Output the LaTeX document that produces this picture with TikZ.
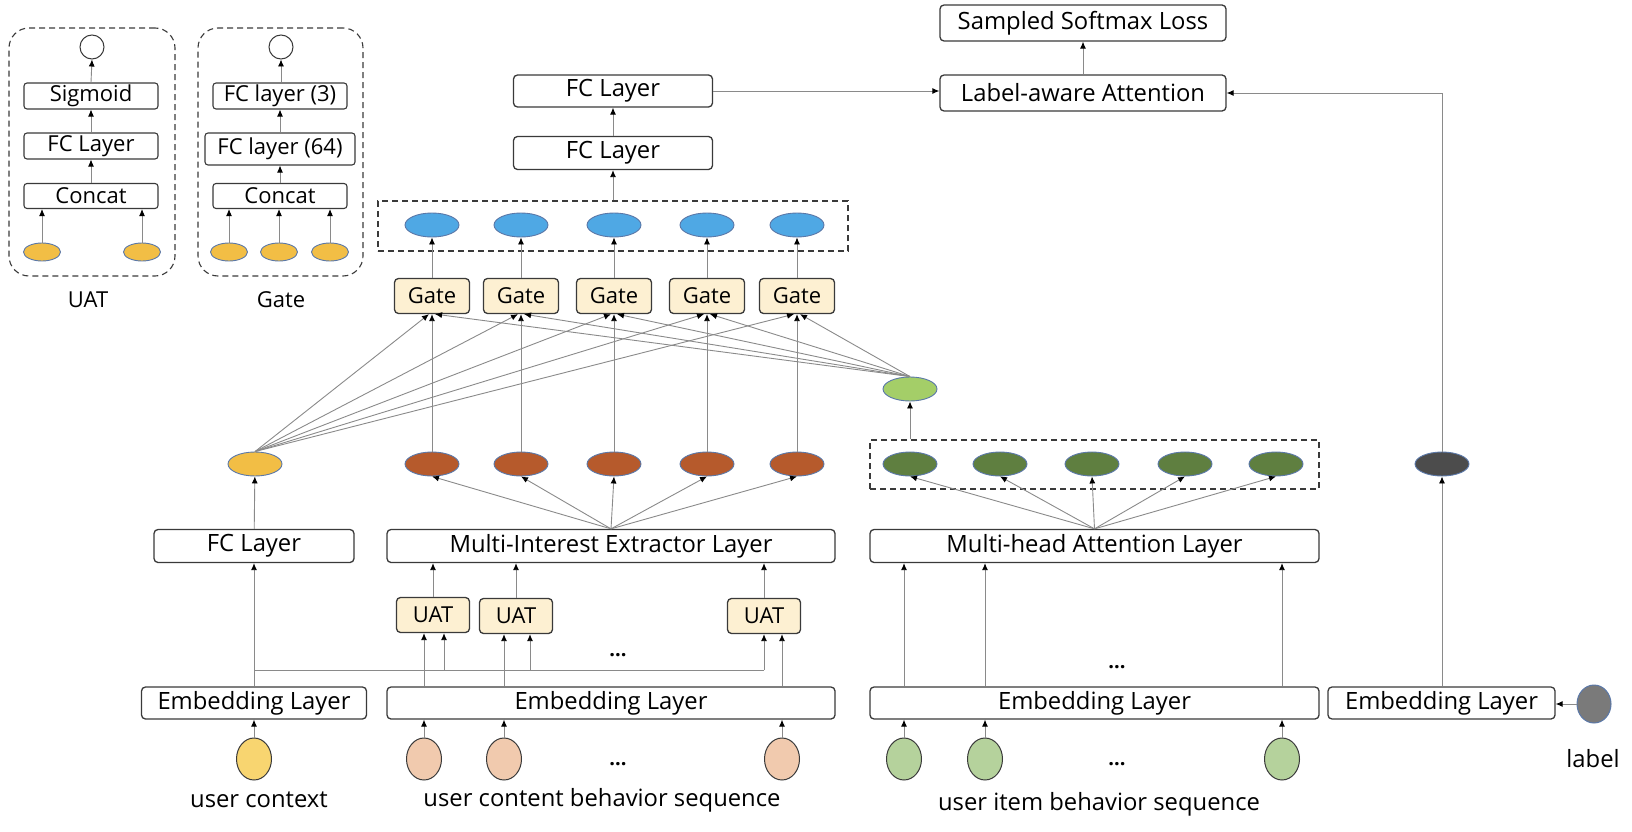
\documentclass[tikz,border=0pt]{standalone}
\usepackage{fontspec}
\setmainfont{Open Sans}
\usetikzlibrary{shapes.geometric,arrows.meta,calc}
\definecolor{linec}{HTML}{8A8A8A}
\definecolor{boxc}{HTML}{3A3A3A}
\definecolor{cream}{HTML}{FDF0D2}
\definecolor{yellowF}{HTML}{F2BE45}
\definecolor{ellb}{HTML}{5B78A8}
\definecolor{blueF}{HTML}{4FA8E4}
\definecolor{brownF}{HTML}{B65A2C}
\definecolor{dgreenF}{HTML}{5F7F40}
\definecolor{lgreenF}{HTML}{A4CE68}
\definecolor{grayF}{HTML}{4C4C4C}
\definecolor{ucF}{HTML}{F8D570}
\definecolor{peachF}{HTML}{F1CAAE}
\definecolor{itemF}{HTML}{B5D29C}
\definecolor{labF}{HTML}{7A7A7A}
\begin{document}
\begin{tikzpicture}[x=1pt,y=-1pt,
  mainf/.style={font=\fontsize{23.8}{27}\selectfont},
  gatef/.style={font=\fontsize{22}{26}\selectfont},
  smallf/.style={font=\fontsize{22}{25}\selectfont},
  box/.style={draw=boxc, line width=1.3pt, rounded corners=4pt, fill=white, inner sep=0pt, mainf},
  sbox/.style={draw=boxc, line width=1.1pt, rounded corners=3pt, fill=white, inner sep=0pt, smallf},
  cbox/.style={box, gatef, fill=cream, minimum width=73pt, minimum height=35pt},
  ell/.style={ellipse, draw=ellb, line width=0.9pt, minimum width=54pt, minimum height=24pt, inner sep=0pt},
  sell/.style={ellipse, draw=ellb, line width=0.9pt, minimum width=37pt, minimum height=18pt, inner sep=0pt, fill=yellowF},
  circ/.style={ellipse, draw=boxc, line width=1pt, minimum width=35pt, minimum height=42pt, inner sep=0pt},
  dbox/.style={draw=boxc, dash pattern=on 6pt off 4pt, line width=1.1pt, inner sep=0pt},
  arr/.style={draw=linec, line width=0.9pt, -{Latex[length=7pt,width=6pt,color=black]}},
  ln/.style={draw=linec, line width=0.9pt},
  dots/.style={font=\fontsize{20}{22}\selectfont\bfseries}
]
\useasboundingbox (0,0) rectangle (1632,832);

% ---------- UAT panel ----------
\node[dbox, rounded corners=20pt, minimum width=166pt, minimum height=248pt] (uatpanel) at (92,152) {};
\node[circle, draw=boxc, line width=1pt, minimum size=24pt, inner sep=0pt, fill=white] (uo) at (92,47) {};
\node[sbox, minimum width=134pt, minimum height=26pt] (usig) at (91,96) {Sigmoid};
\node[sbox, minimum width=134pt, minimum height=26pt] (ufc) at (91,146) {FC Layer};
\node[sbox, minimum width=134pt, minimum height=25pt] (ucat) at (91,196) {Concat};
\node[sell] (ue1) at (42,252) {};
\node[sell] (ue2) at (142,252) {};
\node[gatef] (uatlab) at (88,300) {UAT};

% ---------- Gate panel ----------
\node[dbox, rounded corners=20pt, minimum width=165pt, minimum height=248pt] (gatepanel) at (280.5,152) {};
\node[circle, draw=boxc, line width=1pt, minimum size=24pt, inner sep=0pt, fill=white] (go) at (281,47) {};
\node[sbox, minimum width=134pt, minimum height=26pt] (gfc3) at (280,96) {FC layer (3)};
\node[sbox, minimum width=150pt, minimum height=32pt] (gfc64) at (280,149) {FC layer (64)};
\node[sbox, minimum width=134pt, minimum height=25pt] (gcat) at (280,196) {Concat};
\node[sell] (ge1) at (229,252) {};
\node[sell] (ge2) at (279,252) {};
\node[sell] (ge3) at (330,252) {};
\node[gatef] (gatelab) at (281,300) {Gate};

% ---------- top ----------
\node[box, minimum width=286pt, minimum height=36pt] (sml) at (1083,23) {Sampled Softmax Loss};
\node[box, minimum width=286pt, minimum height=36pt] (laa) at (1083,93) {Label-aware Attention};
\node[box, minimum width=199pt, minimum height=32pt] (fc2) at (613,91) {FC Layer};
\node[box, minimum width=199pt, minimum height=33pt] (fc1) at (613,153) {FC Layer};

% dashed groups
\node[dbox, minimum width=470pt, minimum height=50pt] (bluebox) at (613,226) {};
\node[dbox, minimum width=449pt, minimum height=49pt] (greenbox) at (1094.5,464.5) {};

\foreach \x [count=\i] in {432,521,614,707,797} {
  \node[ell, fill=blueF] (b\i) at (\x,225) {};
  \node[cbox, minimum width=75pt] (g\i) at (\x,296) {Gate};
  \node[ell, fill=brownF] (br\i) at (\x,464) {};
}
\foreach \x [count=\i] in {910,1000,1092,1185,1276} {
  \node[ell, fill=dgreenF] (gr\i) at (\x,464) {};
}
\node[ell, fill=lgreenF] (lg) at (910,389) {};
\node[ell, fill=yellowF] (yc) at (255,464) {};
\node[ell, fill=grayF] (gy) at (1442,464) {};

% layers
\node[box, minimum width=200pt, minimum height=33pt] (fcl) at (254,546) {FC Layer};
\node[box, minimum width=448pt, minimum height=33pt] (mie) at (611,546) {Multi-Interest Extractor Layer};
\node[box, minimum width=449pt, minimum height=33pt] (mha) at (1094.5,546) {Multi-head Attention Layer};

\node[cbox] (uat1) at (433,615) {UAT};
\node[cbox] (uat2) at (516,616) {UAT};
\node[cbox] (uat3) at (764,616) {UAT};

\node[box, minimum width=225pt, minimum height=32pt] (emb1) at (254,703) {Embedding Layer};
\node[box, minimum width=448pt, minimum height=32pt] (emb2) at (611,703) {Embedding Layer};
\node[box, minimum width=449pt, minimum height=32pt] (emb3) at (1094.5,703) {Embedding Layer};
\node[box, minimum width=227pt, minimum height=32pt] (emb4) at (1441.5,703) {Embedding Layer};

% inputs
\node[circ, fill=ucF] (ucc) at (254,759) {};
\node[circ, fill=peachF] (cc1) at (424,759) {};
\node[circ, fill=peachF] (cc2) at (504,759) {};
\node[circ, fill=peachF] (cc3) at (782,759) {};
\node[circ, fill=itemF] (ic1) at (904,759) {};
\node[circ, fill=itemF] (ic2) at (985,759) {};
\node[circ, fill=itemF] (ic3) at (1282,759) {};
\node[ellipse, draw=ellb, line width=1pt, minimum width=34pt, minimum height=38pt, inner sep=0pt, fill=labF] (lab) at (1594,704) {};

\node[dots] (d1) at (618,764) {...};
\node[dots] (d2) at (618,655) {...};
\node[dots] (d3) at (1117,764) {...};
\node[dots] (d4) at (1117,667) {...};

\node[mainf] (t1) at (259,800) {user context};
\node[mainf] (t2) at (602,800) {user content behavior sequence};
\node[mainf] (t3) at (1099,804) {user item behavior sequence};
\node[mainf] (t4) at (1593,759) {label};

% ---------- connectors: panels ----------
\draw[arr] (ue1.north) -- (ue1.north |- ucat.south);
\draw[arr] (ue2.north) -- (ue2.north |- ucat.south);
\draw[arr] (ucat) -- (ufc);
\draw[arr] (ufc) -- (usig);
\draw[arr] (usig.north) -- (uo.south);
\draw[arr] (ge1.north) -- (ge1.north |- gcat.south);
\draw[arr] (ge2.north) -- (ge2.north |- gcat.south);
\draw[arr] (ge3.north) -- (ge3.north |- gcat.south);
\draw[arr] (gcat.north -| gfc64) -- (gfc64.south);
\draw[arr] (gfc64.north) -- (gfc64.north |- gfc3.south);
\draw[arr] (gfc3.north -| go) -- (go.south);

% ---------- connectors: main ----------
\foreach \i in {1,...,5} {
  \draw[arr] (g\i) -- (b\i);
  \draw[arr] (br\i) -- (g\i);
  \draw[arr] (yc.north) -- ([xshift=-3pt]g\i.south);
  \draw[arr] (lg.north) -- ([xshift=3pt]g\i.south);
  \draw[arr] (mie.north) -- (br\i.south);
  \draw[arr] (mha.north) -- (gr\i.south);
}
\draw[arr] (greenbox.north -| lg) -- (lg.south);
\draw[arr] (bluebox.north -| fc1) -- (fc1.south);
\draw[arr] (fc1) -- (fc2);
\draw[arr] (fc2.east) -- (fc2.east -| laa.west);
\draw[arr] (laa) -- (sml);
\draw[arr] (gy.north) |- (laa.east);
\draw[arr] (emb4.north -| gy) -- (gy.south);
\draw[arr] (lab.west) -- (lab.west -| emb4.east);

% user context
\draw[arr] (ucc.north) -- (ucc.north |- emb1.south);
\draw[arr] (emb1.north) -- (fcl.south);
\draw[arr] (fcl) -- (yc);
\coordinate (j0) at (254,670);
\coordinate (ja) at (444,670);
\coordinate (jb) at (530,670);
\coordinate (jc) at (764,670);
\draw[ln] (j0) -- (jc);
\draw[arr] (ja) -- (ja |- uat1.south);
\draw[arr] (jb) -- (jb |- uat2.south);
\draw[arr] (jc) -- (jc |- uat3.south);

% content sequence
\foreach \c/\u in {cc1/uat1, cc2/uat2, cc3/uat3} {
  \draw[arr] (\c.north) -- (\c.north |- emb2.south);
  \draw[arr] (\c.north |- emb2.north) -- (\c.north |- \u.south);
  \draw[arr] (\u.north) -- (\u.north |- mie.south);
}

% item sequence
\foreach \c in {ic1, ic2, ic3} {
  \draw[arr] (\c.north) -- (\c.north |- emb3.south);
  \draw[arr] (\c.north |- emb3.north) -- (\c.north |- mha.south);
}
\end{tikzpicture}
\end{document}
